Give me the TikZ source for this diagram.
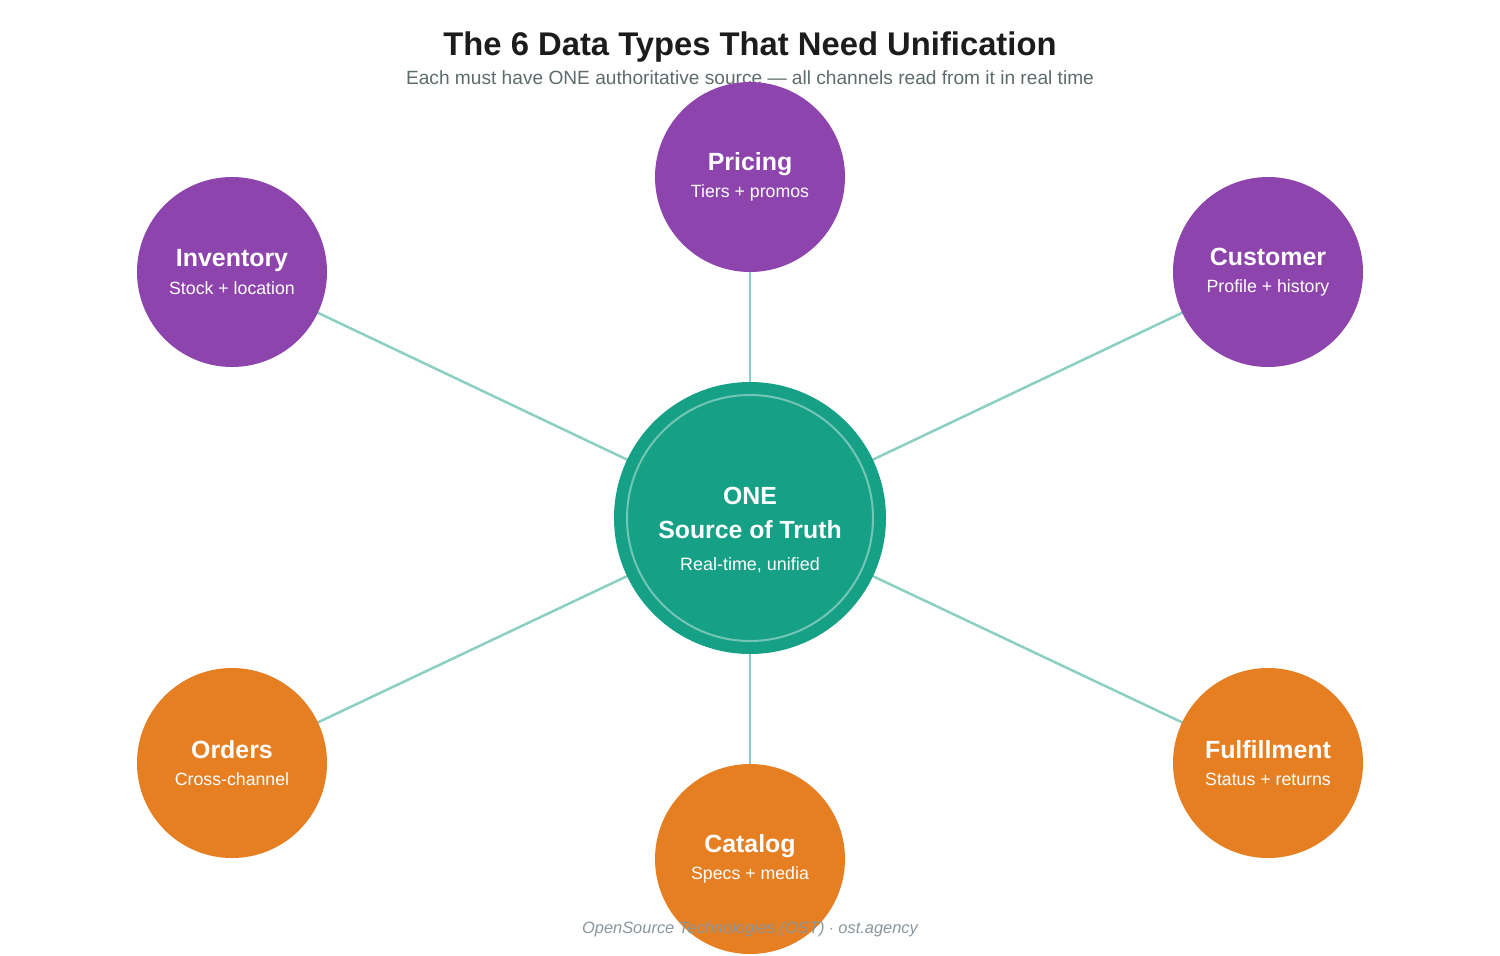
\documentclass[tikz,border=0pt]{standalone}
\usepackage{fontspec}
\setmainfont{Liberation Sans}
\usetikzlibrary{positioning,backgrounds}

\definecolor{hubgreen}{HTML}{16A085}
\definecolor{purp}{HTML}{8E44AD}
\definecolor{orng}{HTML}{E67E22}
\definecolor{linkc}{HTML}{8ACFC2}
\definecolor{titleink}{HTML}{1C1C1C}
\definecolor{subink}{HTML}{5E6B6C}
\definecolor{footink}{HTML}{8A969C}

\begin{document}
\begin{tikzpicture}[
  x=1bp, y=-1bp,
  sat/.style={circle, minimum size=190bp, inner sep=0pt, text=white,
              align=center, font=\fontsize{17.8}{27.5}\selectfont},
  data/.style={sat, fill=purp},
  ops/.style={sat, fill=orng},
  hub/.style={circle, minimum size=272bp, inner sep=0pt, fill=hubgreen},
  link/.style={draw=linkc, line width=2.5bp},
]
\useasboundingbox (0,0) rectangle (1500,955);
% heading
\node[anchor=base, text=titleink, font=\fontsize{32.9}{36}\selectfont\bfseries]
  (title) at (750,55.5) {The 6 Data Types That Need Unification};
\node[anchor=base, text=subink, font=\fontsize{19.2}{22}\selectfont]
  (subtitle) at (750,84.5)
  {Each must have ONE authoritative source --- all channels read from it in real time};
% hub in the middle
\node[hub] (hub) at (750,518) {};
\node[circle, minimum size=246bp, inner sep=0pt, draw=white, draw opacity=.4,
      line width=2bp] (ring) at (hub) {};
\node[align=center, text=white, font=\fontsize{24.9}{34}\selectfont\bfseries,
      yshift=-12bp] (hubtxt) at (hub)
  {ONE\\Source of Truth\\[-2.5bp]{\fontsize{18}{21}\selectfont\mdseries Real-time, unified}};
% data types, top row purple
\node[data] (pricing) at (750,177)
  {{\fontsize{25}{27}\selectfont\bfseries Pricing}\\Tiers + promos};
\node[data] (inventory) at (232,272)
  {{\fontsize{25}{27}\selectfont\bfseries Inventory}\\Stock + location};
\node[data] (customer) at (1268,272)
  {{\fontsize{25}{27}\selectfont\bfseries Customer}\\Profile + history};
% bottom row orange
\node[ops] (orders) at (232,763)
  {{\fontsize{25}{27}\selectfont\bfseries Orders}\\Cross-channel};
\node[ops] (catalog) at (750,859)
  {{\fontsize{25}{27}\selectfont\bfseries Catalog}\\Specs + media};
\node[ops] (fulfil) at (1268,763)
  {{\fontsize{25}{27}\selectfont\bfseries Fulfillment}\\Status + returns};
% spokes behind everything
\begin{scope}[on background layer]
  \draw[link] (hub.center) -- (pricing.center);
  \draw[link] (hub.center) -- (inventory.center);
  \draw[link] (hub.center) -- (customer.center);
  \draw[link] (hub.center) -- (orders.center);
  \draw[link] (hub.center) -- (catalog.center);
  \draw[link] (hub.center) -- (fulfil.center);
\end{scope}
% footer
\node[anchor=base, text=footink, font=\fontsize{16.5}{19}\selectfont\itshape]
  (footer) at (750,933.5) {OpenSource Technologies (OST) $\cdot$ ost.agency};
\end{tikzpicture}
\end{document}
